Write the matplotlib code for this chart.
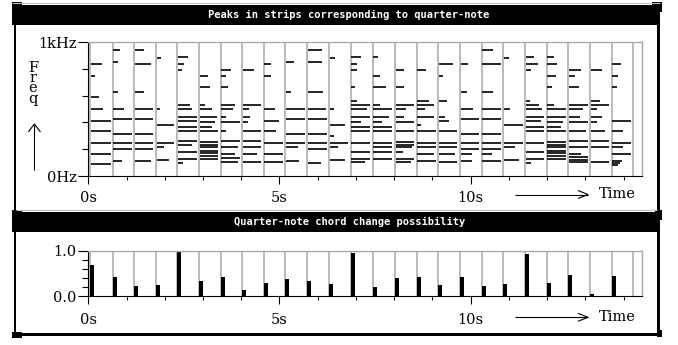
import matplotlib
matplotlib.use("Agg")
import matplotlib.pyplot as plt
from matplotlib.patches import Rectangle
from matplotlib.ticker import FixedLocator

# ---------------- data ----------------
# quarter-note strip boundaries (seconds)
beat_times = [0.044, 0.638, 1.203, 1.765, 2.320, 2.903, 3.462, 4.019, 4.582,
              5.149, 5.727, 6.300, 6.862, 7.437, 8.020, 8.588, 9.153, 9.720,
              10.288, 10.853, 11.420, 11.987, 12.552, 13.120, 13.687, 14.236]

# peak frequencies (Hz) in each strip, and peak length (fraction of strip)
strip_peak_freqs = [
    [838, 749, 590, 503, 411, 338, 249, 164, 90],
    [940, 848, 629, 503, 425, 316, 249, 204, 110],
    [940, 836, 629, 503, 425, 316, 249, 204, 110],
    [881, 503, 383, 249, 219, 117],
    [888, 838, 794, 530, 503, 443, 411, 368, 338, 264, 229, 182, 129, 95],
    [749, 664, 530, 503, 443, 403, 368, 333, 252, 234, 216, 187, 169, 151, 129],
    [794, 749, 662, 530, 503, 443, 403, 338, 264, 219, 164, 134, 107],
    [794, 530, 503, 443, 403, 338, 264, 219, 164, 107],
    [836, 749, 503, 411, 338, 249, 164, 107],
    [851, 629, 503, 425, 316, 249, 219, 110],
    [940, 851, 629, 503, 425, 316, 249, 204, 95],
    [881, 503, 383, 296, 249, 219, 117],
    [888, 838, 794, 662, 562, 530, 503, 443, 403, 368, 333, 249, 182, 129, 105],
    [888, 749, 662, 530, 503, 443, 403, 368, 333, 249, 219, 182, 129],
    [794, 662, 530, 503, 443, 403, 333, 252, 234, 216, 177, 129, 105],
    [794, 557, 530, 503, 443, 383, 333, 249, 219, 164, 115],
    [838, 749, 557, 443, 411, 333, 249, 219, 164, 107],
    [838, 629, 503, 425, 316, 249, 204, 164, 110],
    [940, 838, 629, 503, 425, 316, 249, 204, 164, 110],
    [881, 503, 383, 249, 219, 117],
    [888, 838, 794, 562, 530, 503, 443, 411, 368, 338, 249, 182, 129, 95],
    [888, 838, 749, 662, 530, 503, 443, 403, 368, 333, 252, 234, 216, 187, 169, 151, 129],
    [794, 749, 662, 530, 503, 443, 403, 338, 264, 219, 164, 140, 122, 104],
    [794, 557, 530, 503, 443, 403, 338, 264, 219, 107],
    [838, 749, 662, 411, 338, 249, 219, 164, 114, 97, 80],
]
strip_peak_lens = [
    [0.50, 0.20, 0.35, 0.55, 0.88, 0.88, 0.88, 0.88, 0.88],
    [0.28, 0.23, 0.20, 0.50, 0.85, 0.85, 0.85, 0.85, 0.40],
    [0.43, 0.72, 0.43, 0.85, 0.85, 0.85, 0.85, 0.85, 0.72],
    [0.23, 0.16, 0.84, 0.84, 0.35, 0.60],
    [0.48, 0.30, 0.18, 0.54, 0.63, 0.85, 0.85, 0.85, 0.85, 0.85, 0.63, 0.85, 0.85, 0.25],
    [0.38, 0.46, 0.23, 0.58, 0.80, 0.70, 0.55, 0.85, 0.85, 0.85, 0.85, 0.85, 0.85, 0.85, 0.85],
    [0.47, 0.20, 0.30, 0.62, 0.53, 0.22, 0.85, 0.22, 0.85, 0.78, 0.62, 0.85, 0.78],
    [0.50, 0.85, 0.28, 0.35, 0.25, 0.85, 0.85, 0.85, 0.66, 0.85],
    [0.30, 0.30, 0.50, 0.66, 0.54, 0.86, 0.86, 0.86],
    [0.38, 0.24, 0.85, 0.85, 0.85, 0.85, 0.53, 0.60],
    [0.62, 0.62, 0.70, 0.80, 0.85, 0.85, 0.85, 0.85, 0.57],
    [0.23, 0.18, 0.72, 0.18, 0.85, 0.38, 0.72],
    [0.42, 0.23, 0.23, 0.18, 0.23, 0.85, 0.70, 0.85, 0.45, 0.85, 0.85, 0.85, 0.85, 0.85, 0.60],
    [0.22, 0.30, 0.57, 0.30, 0.85, 0.70, 0.40, 0.85, 0.85, 0.85, 0.85, 0.85, 0.85],
    [0.38, 0.38, 0.85, 0.46, 0.38, 0.85, 0.85, 0.85, 0.85, 0.77, 0.35, 0.85, 0.72],
    [0.38, 0.54, 0.77, 0.34, 0.77, 0.18, 0.85, 0.85, 0.85, 0.77, 0.85],
    [0.66, 0.20, 0.38, 0.28, 0.48, 0.85, 0.85, 0.85, 0.72, 0.85],
    [0.34, 0.30, 0.58, 0.85, 0.85, 0.85, 0.85, 0.50, 0.54],
    [0.50, 0.88, 0.50, 0.88, 0.88, 0.88, 0.88, 0.88, 0.42, 0.88],
    [0.23, 0.28, 0.88, 0.88, 0.50, 0.70],
    [0.38, 0.58, 0.23, 0.20, 0.62, 0.77, 0.85, 0.72, 0.85, 0.85, 0.85, 0.85, 0.85, 0.26],
    [0.30, 0.43, 0.38, 0.23, 0.30, 0.85, 0.85, 0.70, 0.65, 0.85, 0.85, 0.85, 0.85, 0.85, 0.85, 0.85, 0.85],
    [0.57, 0.26, 0.48, 0.85, 0.66, 0.50, 0.85, 0.77, 0.85, 0.85, 0.54, 0.85, 0.85, 0.85],
    [0.50, 0.43, 0.85, 0.28, 0.50, 0.28, 0.65, 0.85, 0.85, 0.85],
    [0.40, 0.27, 0.24, 0.87, 0.50, 0.87, 0.50, 0.87, 0.44, 0.36, 0.27],
]

# chord change possibility per quarter-note strip
change_possibility = [0.68, 0.43, 0.21, 0.25, 1.00, 0.33, 0.41, 0.13, 0.29, 0.37,
                      0.33, 0.26, 0.94, 0.19, 0.39, 0.43, 0.25, 0.41, 0.21, 0.27,
                      0.92, 0.29, 0.46, 0.05, 0.45]

time_ticks = [0, 5, 10]
time_labels = ["0s", "5s", "10s"]
time_minor = [1, 2, 3, 4, 6, 7, 8, 9, 11, 12, 13, 14]
freq_ticks = [0, 1000]
freq_labels = ["0Hz", "1kHz"]
freq_minor = [200, 400, 600, 800]
poss_ticks = [0.0, 1.0]
poss_labels = ["0.0", "1.0"]
poss_minor = [0.2, 0.4, 0.6, 0.8]
title_top = "Peaks in strips corresponding to quarter-note"
title_bottom = "Quarter-note chord change possibility"

# ---------------- figure ----------------
W, H = 678, 345
fig = plt.figure(figsize=(W / 100, H / 100), dpi=100)
fig.patch.set_facecolor("white")

SERIF = "DejaVu Serif"
FS = 10.5
GRAY = "#a8a8a8"

# overlay for window frame decorations (pixel coords)
ov = fig.add_axes([0, 0, 1, 1])
ov.set_xlim(0, W)
ov.set_ylim(H, 0)
ov.axis("off")

def rect(x0, y0, x1, y1, color="black"):
    ov.add_patch(Rectangle((x0, y0), x1 - x0, y1 - y0, facecolor=color,
                           edgecolor="none", lw=0))

def line(xs, ys, color="black", lw=0.75):
    ov.plot(xs, ys, color=color, lw=lw, solid_capstyle="butt")

# top gray line
line([12, 660], [2.5, 2.5], color="#c0c0c0", lw=0.8)
# panel 1
rect(12, 4.5, 658, 25)
rect(12, 2, 22, 6.5)
rect(652, 2, 662, 12)
rect(13.5, 4, 16, 210)
rect(657, 4, 660, 210)
line([16, 657], [209.5, 209.5], color="#c0c0c0", lw=0.8)
ov.text(349, 14.5, title_top, color="white", ha="center", va="center",
        family="DejaVu Sans Mono", weight="bold", fontsize=7.5)
# panel 2
rect(12, 211.5, 658, 232)
rect(12, 210, 22, 215)
rect(655, 210, 662, 220)
rect(13.5, 232, 16, 336)
rect(657, 220, 660, 333)
rect(12, 333, 660, 335.5)
rect(12, 331.5, 22, 337.5)
rect(657, 330, 662, 337)
ov.text(350, 221.5, title_bottom, color="white", ha="center", va="center",
        family="DejaVu Sans Mono", weight="bold", fontsize=7.5)

# "F r e q" stacked vertically with upward arrow
ov.text(33, 60.5, "F\nr\ne\nq", ha="center", va="top", multialignment="center",
        family=SERIF, fontsize=FS, linespacing=0.68)
line([34.3, 34.3], [170, 124.5], lw=0.8)
line([28.3, 34.3, 40.5], [132, 124, 132], lw=0.8)

# Time arrows and labels
for yc in (194.5, 317.3):
    line([515, 588], [yc, yc], lw=0.8)
    line([578, 588, 578], [yc - 4, yc, yc + 4], lw=0.8)
    ov.text(599, yc, "Time", ha="left", va="center", family=SERIF, fontsize=FS)

# ---------------- axes helpers ----------------
XMAX = 14.48

def px_axes(x0, y0, x1, y1):
    return fig.add_axes([x0 / W, 1 - y1 / H, (x1 - x0) / W, (y1 - y0) / H])

def style_axes(ax, yt, ylab, ymin, xpad):
    for s in ("top", "right"):
        ax.spines[s].set_color(GRAY)
        ax.spines[s].set_linewidth(1.0)
    for s in ("left", "bottom"):
        ax.spines[s].set_color("black")
        ax.spines[s].set_linewidth(0.8)
    ax.set_xlim(0, XMAX)
    ax.xaxis.set_major_locator(FixedLocator(time_ticks))
    ax.set_xticklabels(time_labels)
    ax.xaxis.set_minor_locator(FixedLocator(time_minor))
    ax.yaxis.set_major_locator(FixedLocator(yt))
    ax.set_yticklabels(ylab)
    ax.yaxis.set_minor_locator(FixedLocator(ymin))
    ax.tick_params(axis="x", which="major", direction="out", length=6, width=0.8,
                   pad=xpad, labelsize=FS)
    ax.tick_params(axis="x", which="minor", direction="out", length=3.2, width=0.8)
    ax.tick_params(axis="y", which="major", direction="out", length=7.5, width=0.8,
                   pad=1, labelsize=FS)
    ax.tick_params(axis="y", which="minor", direction="out", length=4, width=0.8)
    for lab in ax.get_xticklabels() + ax.get_yticklabels():
        lab.set_family(SERIF)

# ---------------- top: peaks ----------------
ax1 = px_axes(88.3, 42, 642, 176)
ax1.set_ylim(0, 1000)
ax1.vlines(beat_times, 0, 1000, color=GRAY, lw=1.1, zorder=1)
for i, (freqs, lens) in enumerate(zip(strip_peak_freqs, strip_peak_lens)):
    t0 = beat_times[i]
    dt = beat_times[i + 1] - t0
    for f, L in zip(freqs, lens):
        ax1.hlines(f, t0 + 0.02, t0 + 0.02 + L * dt, color="black", lw=1.2,
                   zorder=2, capstyle="butt")
style_axes(ax1, freq_ticks, freq_labels, freq_minor, 4.5)

# ---------------- bottom: chord change ----------------
ax2 = px_axes(88.3, 250.7, 642, 296)
ax2.set_ylim(0, 1.0)
ax2.vlines(beat_times, 0, 1.0, color=GRAY, lw=1.1, zorder=1)
ax2.bar(beat_times[:-1], change_possibility, width=0.105, align="edge",
        color="black", zorder=2)
style_axes(ax2, poss_ticks, poss_labels, poss_minor, 6)

fig.savefig("out.png", dpi=100, facecolor="white")
